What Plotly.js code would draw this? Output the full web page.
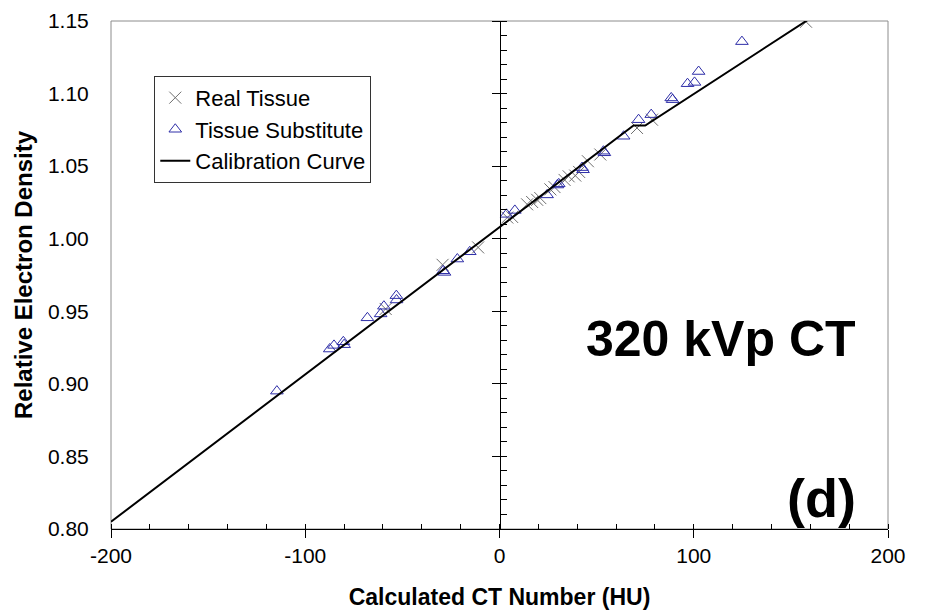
<!DOCTYPE html>
<html>
<head>
<meta charset="utf-8">
<script src="https://cdn.plot.ly/plotly-3.0.1.min.js"></script>
<style>html,body{margin:0;padding:0;background:#fff;}#chart{width:929px;height:613px;}</style>
</head>
<body>
<div id="chart"></div>
<script>
// Real tissue (x markers)
const realHU  = [-58.6, -29.3, -11.0, 4.0, 6.5, 14.2, 16.8, 19.4, 21.0, 26.2, 28.3, 33.5, 35.6, 39.0, 41.0, 45.5, 51.9, 70.8, 78.5, 157.8];
const realRED = [0.9516, 0.9820, 0.9940, 1.0146, 1.0150, 1.0237, 1.0253, 1.0268, 1.0280, 1.0340, 1.0356, 1.0405, 1.0430, 1.0435, 1.0460, 1.0534, 1.0580, 1.0763, 1.0820, 1.1495];

// Tissue substitutes (triangles)
const subHU  = [-114.6, -87.4, -85.2, -80.4, -80.0, -68.0, -61.2, -59.5, -53.1, -53.0, -29.0, -28.3, -21.7, -15.3, 3.6, 7.9, 24.5, 29.8, 30.5, 42.5, 43.0, 53.5, 54.0, 63.9, 71.6, 78.1, 88.4, 89.1, 96.8, 100.4, 102.5, 124.8];
const subRED = [0.8950, 0.9240, 0.9265, 0.9290, 0.9270, 0.9455, 0.9482, 0.9535, 0.9608, 0.9578, 0.9779, 0.9768, 0.9860, 0.9910, 1.0168, 1.0195, 1.0302, 1.0370, 1.0378, 1.0490, 1.0475, 1.0603, 1.0592, 1.0706, 1.0820, 1.0855, 1.0970, 1.0958, 1.1068, 1.1077, 1.1152, 1.1358];

// Calibration curve (piecewise linear)
const curveHU  = [-200, 69, 75, 159];
const curveRED = [0.805, 1.078, 1.078, 1.151];

const xTickVals = [-200, -100, 0, 100, 200];
const yTickVals = [0.80, 0.85, 0.90, 0.95, 1.00, 1.05, 1.10, 1.15];

const FONT = '"Liberation Sans", Arial, sans-serif';

const traces = [
  {x: realHU, y: realRED, type: 'scatter', mode: 'markers', name: 'Real Tissue', legendgroup: 'a',
   marker: {symbol: 'x-thin-open', size: 12, color: '#6e6e6e', line: {color: '#6e6e6e', width: 1}}},
  {x: subHU, y: subRED, type: 'scatter', mode: 'markers', name: 'Tissue Substitute', legendgroup: 'b',
   marker: {symbol: 'triangle-up-open', size: 11, color: '#2e2ea8', line: {color: '#2e2ea8', width: 1}}},
  {x: curveHU, y: curveRED, type: 'scatter', mode: 'lines', name: 'Calibration Curve', legendgroup: 'c',
   line: {color: '#000', width: 2}}
];

const layout = {
  width: 929, height: 613,
  margin: {l: 111, r: 41, t: 21, b: 84},
  paper_bgcolor: '#fff', plot_bgcolor: '#fff',
  font: {family: FONT, color: '#000', size: 21},
  showlegend: true,
  legend: {
    x: 0.0557, y: 0.892, xanchor: 'left', yanchor: 'top',
    bgcolor: '#fff', bordercolor: '#333', borderwidth: 1,
    font: {family: FONT, size: 22, color: '#000'},
    traceorder: 'grouped', tracegroupgap: 0
  },
  xaxis: {
    range: [-200, 200], tickvals: xTickVals, ticktext: xTickVals.map(String),
    showline: true, linecolor: '#000', linewidth: 1,
    ticks: 'outside', ticklen: 8, tickcolor: '#000',
    minor: {ticks: 'inside', ticklen: 5, dtick: 20, tick0: -200, tickcolor: '#000', showgrid: false},
    showgrid: false, zeroline: false,
    tickfont: {family: FONT, size: 21, color: '#000'},
    title: {text: '<b>Calculated CT Number (HU)</b>', font: {family: FONT, size: 23, color: '#000'}, standoff: 22}
  },
  yaxis: {
    range: [0.80, 1.15], tickvals: yTickVals, ticktext: yTickVals.map(v => v.toFixed(2)),
    showline: false, ticks: 'outside', ticklen: 17, tickcolor: 'rgba(0,0,0,0)',
    showgrid: false, zeroline: false,
    tickfont: {family: FONT, size: 21, color: '#000'},
    title: {text: '<b>Relative Electron Density</b>', font: {family: FONT, size: 24, color: '#000'}, standoff: 8}
  },
  yaxis2: {
    overlaying: 'y', anchor: 'free', position: 0.5, side: 'left',
    range: [0.80, 1.15], tick0: 0.80, dtick: 0.05,
    showline: true, linecolor: '#000', linewidth: 1,
    ticks: 'outside', ticklen: 8, tickcolor: '#000',
    minor: {ticks: 'inside', ticklen: 6, dtick: 0.01, tick0: 0.80, tickcolor: '#000', showgrid: false},
    showticklabels: false, showgrid: false, zeroline: false
  },
  shapes: [
    {type: 'rect', xref: 'paper', yref: 'paper', x0: 0, x1: 1, y0: 0, y1: 1,
     line: {color: '#8c8c8c', width: 1}, layer: 'below'}
  ],
  annotations: [
    {text: '<b>320 kVp CT</b>', xref: 'paper', yref: 'paper', x: 0.961, y: 0.374,
     xanchor: 'right', yanchor: 'middle', showarrow: false,
     font: {family: FONT, size: 50, color: '#000'}},
    {text: '<b>(d)</b>', xref: 'paper', yref: 'paper', x: 0.962, y: 0.062,
     xanchor: 'right', yanchor: 'middle', showarrow: false,
     font: {family: FONT, size: 54, color: '#000'}}
  ]
};

// invisible copy of the curve on yaxis2 so the x=0 axis is rendered
traces.push({x: curveHU, y: curveRED, type: 'scatter', mode: 'lines', yaxis: 'y2', showlegend: false,
  hoverinfo: 'skip', line: {color: 'rgba(0,0,0,0)', width: 0}});

Plotly.newPlot('chart', traces, layout, {staticPlot: true, displayModeBar: false});
</script>
</body>
</html>
